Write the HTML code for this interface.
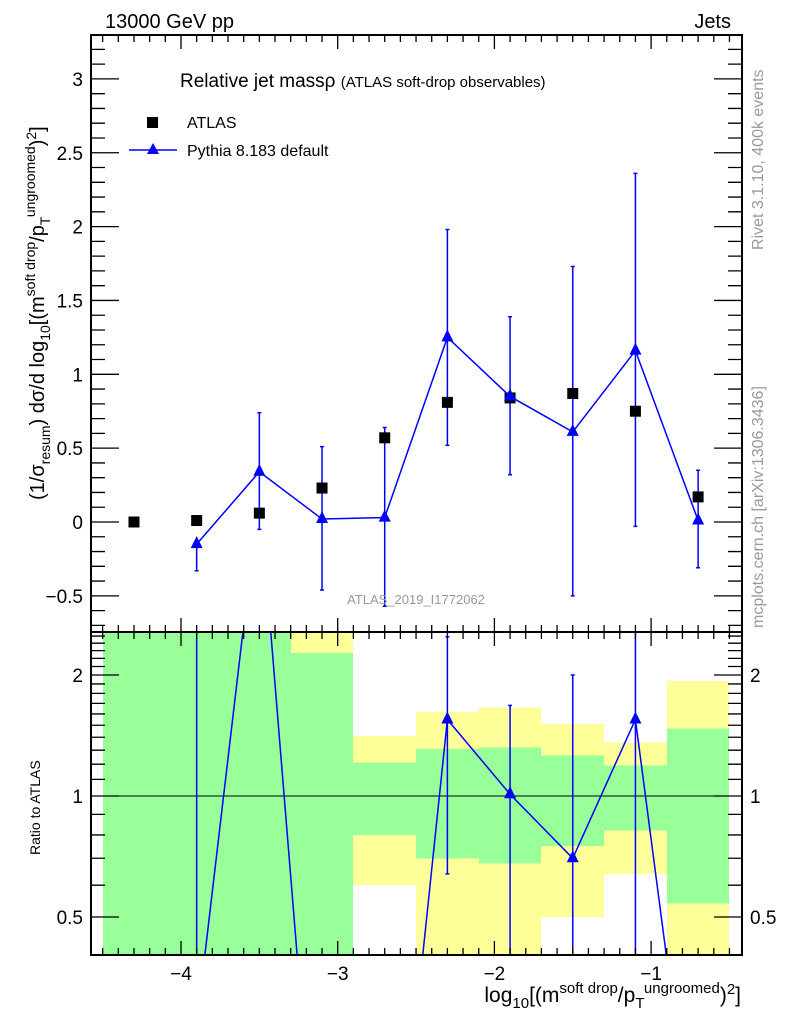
<!DOCTYPE html>
<html><head><meta charset="utf-8"><style>
html,body{margin:0;padding:0;background:#fff;overflow:hidden;}
svg{display:block;font-family:"Liberation Sans",sans-serif;}
</style></head><body>
<svg id="c" width="786" height="1024" viewBox="0 0 786 1024" xmlns="http://www.w3.org/2000/svg">
<defs>
<clipPath id="clipTop"><rect x="91" y="35" width="651" height="597"/></clipPath>
<clipPath id="clipBot"><rect x="91" y="632" width="651" height="323"/></clipPath>
</defs>
<g id="bands" clip-path="url(#clipBot)" shape-rendering="crispEdges"></g>
<g id="plotTop" clip-path="url(#clipTop)"></g>
<g id="plotBot" clip-path="url(#clipBot)"></g>
<g id="axes"></g>
<text x="105" y="28" font-size="20">13000 GeV pp</text>
<text x="731" y="28" font-size="20" text-anchor="end">Jets</text>
<text x="180" y="87" font-size="19">Relative jet massρ <tspan font-size="15">(ATLAS soft-drop observables)</tspan></text>
<rect x="147" y="117" width="11" height="11" fill="#000"/>
<text x="187" y="128" font-size="16">ATLAS</text>
<line x1="129" y1="150" x2="177" y2="150" stroke="#0000ff" stroke-width="1.5"/>
<polygon points="153,143 147,154 159,154" fill="#0000ff"/>
<text x="187" y="156" font-size="16">Pythia 8.183 default</text>
<text x="416" y="604" font-size="13" fill="#999" text-anchor="middle">ATLAS_2019_I1772062</text>
<text transform="translate(763,250) rotate(-90)" font-size="16" fill="#999">Rivet 3.1.10,  400k events</text>
<text transform="translate(763,628) rotate(-90)" font-size="16" fill="#999">mcplots.cern.ch [arXiv:1306.3436]</text>
<text transform="translate(44,500) rotate(-90)" font-size="20">(1/σ<tspan font-size="14" dy="6">resum</tspan><tspan dy="-6">) dσ/d log</tspan><tspan font-size="14" dy="6">10</tspan><tspan dy="-6">[(m</tspan><tspan font-size="14" dy="-9">soft drop</tspan><tspan dy="9">/p</tspan><tspan font-size="14" dy="6">T</tspan><tspan font-size="14" dy="-15">ungroomed</tspan><tspan dy="9">)</tspan><tspan font-size="14" dy="-8">2</tspan><tspan dy="8">]</tspan></text>
<text transform="translate(40,855) rotate(-90)" font-size="14">Ratio to ATLAS</text>
<text x="741" y="1002" font-size="21" text-anchor="end">log<tspan font-size="15" dy="6">10</tspan><tspan dy="-6">[(m</tspan><tspan font-size="15" dy="-9">soft drop</tspan><tspan dy="9">/p</tspan><tspan font-size="15" dy="6">T</tspan><tspan font-size="15" dy="-15">ungroomed</tspan><tspan dy="9">)</tspan><tspan font-size="15" dy="-8">2</tspan><tspan dy="8">]</tspan></text>
</svg>
<script>
const binCenters=[-4.3,-3.9,-3.5,-3.1,-2.7,-2.3,-1.9,-1.5,-1.1,-0.7];
const atlasVals=[0.0,0.01,0.06,0.23,0.57,0.81,0.84,0.87,0.75,0.17];
const pythiaVals=[null,-0.15,0.34,0.02,0.03,1.25,0.85,0.61,1.16,0.01];
const pythiaErrLo=[null,-0.33,-0.05,-0.46,-0.57,0.52,0.32,-0.50,-0.03,-0.31];
const pythiaErrHi=[null,-0.15,0.74,0.51,0.64,1.98,1.39,1.73,2.36,0.35];
const ratioVals=[null,0.27,5.7,0.07,0.05,1.55,1.01,0.70,1.55,0.1];
const ratioErrLo=[null,0.1,null,null,null,0.64,0.1,0.1,0.1,null];
const ratioErrHi=[null,5,null,null,null,2.49,1.68,2.0,5,null];
const bandEdges=[-4.5,-4.1,-3.7,-3.3,-2.9,-2.5,-2.1,-1.7,-1.3,-0.9,-0.5];
const yellowHi=[3,3,3,3,1.41,1.62,1.66,1.51,1.36,1.93];
const yellowLo=[0.3,0.3,0.3,0.3,0.60,0.3,0.3,0.50,0.64,0.3];
const greenHi=[3,3,3,2.27,1.21,1.31,1.32,1.26,1.19,1.47];
const greenLo=[0.3,0.3,0.3,0.3,0.80,0.70,0.68,0.75,0.82,0.54];
const xTicks=[-4,-3,-2,-1];
const yTicks=[-0.5,0,0.5,1,1.5,2,2.5,3];
const rTicks=[0.5,1,2];

const NS='http://www.w3.org/2000/svg';
const X=v=>181+(v+4)*156.7;
const Y=v=>522-v*147.7;
const R=r=>796-Math.log2(r)*121;
const L=91,RT=742,T=35,M=632,B=955;
function mk(tag,at,parent){const e=document.createElementNS(NS,tag);for(const k in at)e.setAttribute(k,at[k]);parent.appendChild(e);return e;}
const gT=document.getElementById('plotTop'),gB=document.getElementById('plotBot'),gBand=document.getElementById('bands'),gA=document.getElementById('axes');

for(let i=0;i<yellowHi.length;i++){
  const x0=Math.round(X(bandEdges[i])),x1=Math.round(X(bandEdges[i+1]));
  const y=mk('rect',{x:x0,y:R(yellowHi[i]),width:x1-x0,height:R(yellowLo[i])-R(yellowHi[i]),fill:'#ffff99'},gBand);
  
  
  const g=mk('rect',{x:x0,y:R(greenHi[i]),width:x1-x0,height:R(greenLo[i])-R(greenHi[i]),fill:'#99ff99'},gBand);
  
  
}
const one=mk('line',{x1:L,x2:RT,y1:R(1),y2:R(1),stroke:'#000','stroke-width':1.3},gBand);



function tri(g,x,y){return mk('polygon',{points:`${x},${y-8} ${x-6},${y+4} ${x+6},${y+4}`,fill:'#0000ff'},g);}

let pts=[];
binCenters.forEach((c,i)=>{
  if(pythiaVals[i]===null)return;
  const x=X(c);
  const e=mk('path',{d:`M${x},${Y(pythiaErrLo[i])}V${Y(pythiaErrHi[i])}M${x-2},${Y(pythiaErrLo[i])}h4M${x-2},${Y(pythiaErrHi[i])}h4`,stroke:'#0000ff','stroke-width':1.5,fill:'none'},gT);
  
  
  pts.push(x+','+Y(pythiaVals[i]));
});
binCenters.forEach((c,i)=>{
  const s=mk('rect',{x:X(c)-5.5,y:Y(atlasVals[i])-5.5,width:11,height:11,fill:'#000'},gT);
  
  
});
const pl=mk('polyline',{points:pts.join(' '),fill:'none',stroke:'#0000ff','stroke-width':1.5},gT);


binCenters.forEach((c,i)=>{
  if(pythiaVals[i]===null)return;
  const t=tri(gT,X(c),Y(pythiaVals[i]));
  
  
});

let rp=[];
binCenters.forEach((c,i)=>{
  if(ratioVals[i]===null)return;
  const x=X(c);
  rp.push(x+','+R(ratioVals[i]));
  if(ratioErrLo[i]===null)return;
  const e=mk('path',{d:`M${x},${R(ratioErrLo[i])}V${R(ratioErrHi[i])}M${x-2},${R(ratioErrLo[i])}h4M${x-2},${R(ratioErrHi[i])}h4`,stroke:'#0000ff','stroke-width':1.5,fill:'none'},gB);
  
  
});
const rl=mk('polyline',{points:rp.join(' '),fill:'none',stroke:'#0000ff','stroke-width':1.5},gB);


binCenters.forEach((c,i)=>{
  if(ratioVals[i]===null)return;
  const t=tri(gB,X(c),R(ratioVals[i]));
  
  
});

[[T,M],[M,B]].forEach(([a,b])=>{
  const f=mk('rect',{x:L,y:a,width:RT-L,height:b-a,fill:'none',stroke:'#000','stroke-width':2},gA);
  
  
});
let d='';
for(let k=-46;k<=-4;k++){const v=k/10,x=X(v);if(x<L||x>RT)continue;const len=(k%10===0)?14:7;
  d+=`M${x},${M}v${-len}M${x},${T}v${len}M${x},${B}v${-len}M${x},${M}v${len}`;}
for(let k=-7;k<=32;k++){const v=k/10,y=Y(v);if(y<T||y>M)continue;const len=(k%5===0)?28:14;
  d+=`M${L},${y}h${len}M${RT},${y}h${-len}`;}
[0.4,0.5,0.6,0.7,0.8,0.9,1,1.1,1.2,1.3,1.4,1.5,1.6,1.7,1.8,1.9,2,2.1,2.2,2.3,2.4,2.5].forEach(v=>{const y=R(v);if(y<M||y>B)return;const len=rTicks.includes(v)?28:14;
  d+=`M${L},${y}h${len}M${RT},${y}h${-len}`;});
const tk=mk('path',{d:d,stroke:'#000','stroke-width':1.3,fill:'none'},gA);


xTicks.forEach(v=>{const t=mk('text',{x:X(v),y:980,'font-size':19,'text-anchor':'middle'},gA);t.textContent='\u2212'+Math.abs(v);
  
  });
yTicks.forEach(v=>{const t=mk('text',{x:83,y:Y(v)+7,'font-size':19,'text-anchor':'end'},gA);t.textContent=(v<0?'\u2212':'')+Math.abs(v);
  
  });
rTicks.forEach(v=>{const t=mk('text',{x:83,y:R(v)+7,'font-size':19,'text-anchor':'end'},gA);t.textContent=String(v);
  
  
  const t2=mk('text',{x:750,y:R(v)+7,'font-size':19},gA);t2.textContent=String(v);
  
  });
</script>
</body></html>
